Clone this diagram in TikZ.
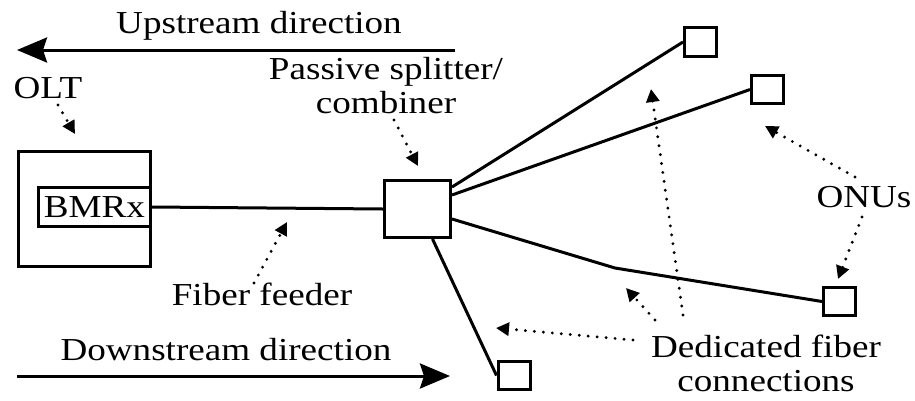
\documentclass[tikz,border=0pt]{standalone}
\usepackage{fontspec}
\setmainfont{Liberation Serif}[FakeStretch=1.16]
\usepackage{tikz}
\usetikzlibrary{shapes,arrows}
\usetikzlibrary{arrows.meta}
\newcommand{\ponbox}[5] {\node at (#1) (#2) [draw, line width=3pt, inner sep=0pt, minimum width=#3, minimum height=#4] {#5};}
\newcommand{\ponlabel}[3] {\node at (#1) (#2) [anchor=base, inner sep=0pt] {#3};}
\newcommand{\ponnote}[3] {\node at (#1) (#2) [align=center, inner sep=0pt] {#3};}
\newcommand{\ponfiber}[2] {\draw [line width=3pt] (#1) -- (#2);}
\newcommand{\ponpointer}[2] {\draw [line width=3.2pt, line cap=round, dash pattern=on 0pt off 9pt, -{Triangle[length=13pt,width=13pt]}] (#1) -- (#2);}
\newcommand{\pondirection}[2] {\draw [line width=3pt, -{Stealth[length=30pt,width=25pt,inset=4pt]}] (#1) -- (#2);}

\begin{document}
\begin{tikzpicture}[x=1pt, y=-1pt, font=\fontsize{32}{34}\selectfont]
\useasboundingbox (0,0) rectangle (915,400);

\coordinate (upstart) at (455,50);
\coordinate (upend) at (17,50);
\coordinate (downstart) at (17,376);
\coordinate (downend) at (450,376);
\coordinate (bend) at (615,268);

\ponbox {84.5,209} {olt} {132pt} {115pt} {};
\ponbox {94.5,207} {bmrx} {112pt} {39pt} {BMRx};
\ponbox {417.5,209} {splitter} {66pt} {57pt} {};
\ponbox {700.5,42} {onu1} {32pt} {29pt} {};
\ponbox {767.5,89.5} {onu2} {32pt} {28pt} {};
\ponbox {839.5,301.5} {onu3} {32pt} {28pt} {};
\ponbox {514,375.5} {onu4} {32pt} {28pt} {};

\ponlabel {259,33} {upstream} {Upstream direction};
\ponlabel {48,98} {oltlabel} {OLT};
\ponnote {386,86} {splitterlabel} {Passive splitter/\\combiner};
\ponlabel {262,305} {feeder} {Fiber feeder};
\ponlabel {226,360} {downstream} {Downstream direction};
\ponlabel {864,207} {onus} {ONUs};
\ponnote {766,363} {dedicated} {Dedicated fiber\\connections};

\pondirection{upstart}{upend};
\pondirection{downstart}{downend};

\ponfiber{bmrx.east}{splitter.west};
\ponfiber{[yshift=22pt]splitter.east}{onu1.west};
\ponfiber{[yshift=14pt]splitter.east}{onu2.west};
\draw [line width=3pt] ([yshift=-10pt]splitter.east) -- (bend) -- (onu3.west);
\ponfiber{[xshift=15pt]splitter.south}{onu4.west};

% pointers
\coordinate (oltfrom) at (58,105);
\coordinate (oltto) at (75,134);
\coordinate (splitfrom) at (394,120);
\coordinate (splitto) at (418,166);
\coordinate (feedfrom) at (254,283);
\coordinate (feedto) at (287,222);
\coordinate (onufromA) at (855,177);
\coordinate (onutoA) at (765,126);
\coordinate (onufromB) at (862,217);
\coordinate (onutoB) at (838,279);
\coordinate (dedfromA) at (633,340);
\coordinate (dedtoA) at (496,328);
\coordinate (dedfromB) at (655,320);
\coordinate (dedtoB) at (626,288);
\coordinate (dedfromC) at (683,315);
\coordinate (dedtoC) at (651,89);

\ponpointer{oltfrom}{oltto};
\ponpointer{splitfrom}{splitto};
\ponpointer{feedfrom}{feedto};
\ponpointer{onufromA}{onutoA};
\ponpointer{onufromB}{onutoB};
\ponpointer{dedfromA}{dedtoA};
\ponpointer{dedfromB}{dedtoB};
\ponpointer{dedfromC}{dedtoC};
\end{tikzpicture}
\end{document}
